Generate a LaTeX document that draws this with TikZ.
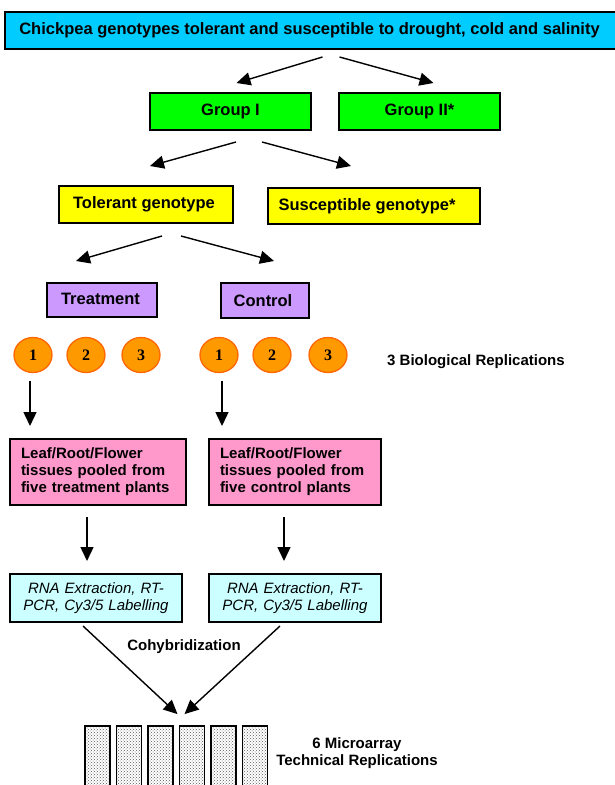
\documentclass[tikz,border=0pt]{standalone}
\usepackage{fontspec}
\setmainfont{Liberation Sans}
\newfontfamily\numfont{Liberation Serif}
\usetikzlibrary{calc,arrows.meta,patterns}
\definecolor{titleblue}{HTML}{00CCFF}
\definecolor{groupgreen}{HTML}{00FF00}
\definecolor{genoyellow}{HTML}{FFFF00}
\definecolor{condpurple}{HTML}{CC99FF}
\definecolor{repfill}{HTML}{FF9900}
\definecolor{repdraw}{HTML}{FF6600}
\definecolor{tissuepink}{HTML}{FF99CC}
\definecolor{rnablue}{HTML}{CCFFFF}
\tikzset{
box/.style={rectangle,draw=black,line width=2pt,inner sep=0pt,
font=\fontsize{16.5}{19}\selectfont\bfseries},
tissue/.style={box,fill=tissuepink,minimum height=66,align=left,
font=\fontsize{15}{17}\selectfont\bfseries},
rna/.style={box,fill=rnablue,minimum width=172,minimum height=48,
text width=160,align=center,font=\fontsize{15}{17}\selectfont\itshape},
rep/.style={ellipse,draw=repdraw,fill=repfill,line width=1.3pt,
minimum width=38,minimum height=35,inner sep=0pt,
font=\fontsize{16}{18}\numfont\bfseries},
chip/.style={rectangle,draw=black,line width=1.8pt,pattern=crosshatch dots,
pattern color=black!65,minimum width=25,minimum height=70,inner sep=0pt},
note/.style={font=\fontsize{15}{17}\selectfont\bfseries,inner sep=0pt},
arr/.style={line width=1.4pt,-{Triangle[length=14pt,width=13pt]}}
}
\usetikzlibrary{shapes.geometric}
\begin{document}
\begin{tikzpicture}[x=1pt,y=-1pt]
\useasboundingbox (0,0) rectangle (614,785);

\node[box,fill=titleblue,minimum width=615,minimum height=37] (title) at (312.5,30.5)
{Chickpea genotypes tolerant and susceptible to drought, cold and salinity\hspace*{6pt}};

\node[box,fill=groupgreen,minimum width=161,minimum height=37] (g1) at (230.5,111.5) {Group I};
\node[box,fill=groupgreen,minimum width=161,minimum height=37] (g2) at (419.5,111.5) {Group II*};

\node[box,fill=genoyellow,minimum width=174,minimum height=37] (tol) at (146,204.5)
{\raisebox{2pt}{Tolerant genotype}\hspace*{4pt}};
\node[box,fill=genoyellow,minimum width=212,minimum height=36] (sus) at (374,206)
{Susceptible genotype*\hspace*{14pt}};

\node[box,fill=condpurple,minimum width=110,minimum height=34] (treat) at (102,300)
{\raisebox{3pt}{Treatment}\hspace*{3pt}};
\node[box,fill=condpurple,minimum width=88,minimum height=35] (ctrl) at (265,300.5)
{Control\hspace*{4pt}};

% biological replications
\foreach \n/\x in {1/33,2/86,3/141}
  \node[rep] (t\n) at (\x,355) {\n};
\foreach \n/\x in {1/219,2/272,3/328}
  \node[rep] (c\n) at (\x,355) {\n};
\node[note,anchor=west] (bio) at (387,362) {3 Biological Replications};

\node[tissue,minimum width=176,text width=154] (pinkT) at (98,472)
{Leaf/Root/Flower\\tissues pooled from\\five treatment plants};
\node[tissue,minimum width=172,text width=150] (pinkC) at (295,472)
{Leaf/Root/Flower\\tissues pooled from\\five control plants};

\node[rna] (blueT) at (96,598) {RNA Extraction, RT-\\PCR, Cy3/5 Labelling};
\node[rna] (blueC) at (295,598) {RNA Extraction, RT-\\PCR, Cy3/5 Labelling};

\node[note] (cohyb) at (184,647) {Cohybridization};

% microarray slides
\foreach \i in {1,...,6}
  \node[chip] (b\i) at (66+31.5*\i,761) {};
\node[note,align=center] (tech) at (357,753) {6 Microarray\\Technical Replications};

\draw[arr] ($(title.south)+(10,7)$) -- ($(g1.north)+(6,-9)$);
\draw[arr] ($(title.south)+(27,7)$) -- ($(g2.north)+(14,-9)$);
\draw[arr] ($(g1.south)+(5.5,11)$) -- ($(tol.north)+(4,-19)$);
\draw[arr] ($(g1.south)+(31.5,11)$) -- ($(sus.north)+(-23,-21)$);
\draw[arr] ($(tol.south)+(16,12)$) -- ($(treat.north)+(-26,-21)$);
\draw[arr] ($(tol.south)+(35,12)$) -- ($(ctrl.north)+(9,-21)$);
\draw[arr] ($(t1.south)+(-3,7.5)$) -- ($(t1.south |- pinkT.north)+(-3,-12)$);
\draw[arr] ($(c1.south)+(3,7.5)$) -- ($(c1.south |- pinkC.north)+(3,-12)$);
\draw[arr] ($(pinkT.south)+(-11,11)$) -- ($(blueT.north)+(-9,-12)$);
\draw[arr] ($(pinkC.south)+(-11,11)$) -- ($(blueC.north)+(-11,-12)$);
\draw[arr] ($(blueT.south)+(-13,3)$) -- ($(b4.north)+(-14.5,-11)$);
\draw[arr] ($(blueC.south)+(-15,3)$) -- ($(b4.north)+(-7.5,-11)$);

\end{tikzpicture}
\end{document}
